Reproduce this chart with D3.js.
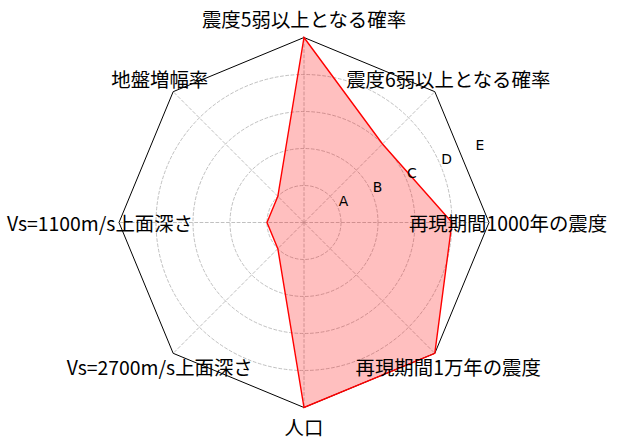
<!DOCTYPE html>
<html>
<head>
<meta charset="utf-8">
<script src="https://cdn.jsdelivr.net/npm/d3@7"></script>
<style>
  body { margin: 0; background: #fff; }
</style>
</head>
<body>
<div id="radar"></div>
<script>
// axes, clockwise from the top
var categories = ["震度5弱以上となる確率", "震度6弱以上となる確率", "再現期間1000年の震度",
    "再現期間1万年の震度", "人口", "Vs=2700m/s上面深さ", "Vs=1100m/s上面深さ", "地盤増幅率"];
var values = [5, 3, 4, 5, 5, 1, 1, 1];
var levels = [1, 2, 3, 4, 5];
var levelLabels = ["A", "B", "C", "D", "E"];

var width = 618, height = 446,
    cx = 304, cy = 222.5, radius = 185;

var svg = d3.select("#radar")
    .append("svg")
    .attr("width", width)
    .attr("height", height)
    .append("g")
    .attr("transform", "translate(" + cx + "," + cy + ")");

var r = d3.scaleLinear().domain([0, 5]).range([0, radius]);
var angle = d3.scaleLinear().domain([0, categories.length]).range([0, 2 * Math.PI]);

// point on the chart for angle a (clockwise from top) and radius d
function px(a, d) { return d * Math.sin(a); }
function py(a, d) { return -d * Math.cos(a); }

// dashed circle grid
svg.append("g")
    .selectAll("circle")
    .data(levels.slice(0, 4))
    .enter()
    .append("circle")
    .attr("r", function (d) { return r(d); })
    .attr("fill", "none")
    .attr("stroke", "#b0b0b0")
    .attr("stroke-width", 0.8)
    .attr("stroke-dasharray", "3.7,1.6");

// spokes
svg.append("g")
    .selectAll("line")
    .data(categories)
    .enter()
    .append("line")
    .attr("x1", 0)
    .attr("y1", 0)
    .attr("x2", function (d, i) { return px(angle(i), r(5)); })
    .attr("y2", function (d, i) { return py(angle(i), r(5)); })
    .attr("stroke", "#b0b0b0")
    .attr("stroke-width", 0.8)
    .attr("stroke-dasharray", "3.7,1.6");

// octagon frame
var frame = d3.lineRadial()
    .angle(function (d, i) { return angle(i); })
    .radius(function (d) { return r(d); })
    .curve(d3.curveLinearClosed);

svg.append("path")
    .datum(categories.map(function () { return 5; }))
    .attr("fill", "none")
    .attr("stroke", "black")
    .attr("stroke-width", 1)
    .attr("d", frame);

// data polygon
svg.append("path")
    .datum(values)
    .attr("fill", "red")
    .attr("fill-opacity", 0.25)
    .attr("stroke", "none")
    .attr("d", frame);

svg.append("path")
    .datum(values)
    .attr("fill", "none")
    .attr("stroke", "red")
    .attr("stroke-width", 1.4)
    .attr("stroke-linejoin", "miter")
    .attr("d", frame);

// level labels A-E
var labelAngle = Math.PI / 2 - Math.PI / 8;
svg.append("g")
    .selectAll("text")
    .data(levels)
    .enter()
    .append("text")
    .attr("x", function (d) { return px(labelAngle, r(d)) + 0.5; })
    .attr("y", function (d) { return py(labelAngle, r(d)) - 2; })
    .attr("text-anchor", "start")
    .style("font-family", "DejaVu Sans")
    .style("font-size", "13.9px")
    .text(function (d, i) { return levelLabels[i]; });

// category labels
svg.append("g")
    .selectAll("text")
    .data(categories)
    .enter()
    .append("text")
    .attr("x", function (d, i) { return px(angle(i), 204); })
    .attr("y", function (d, i) { return py(angle(i), 204); })
    .attr("text-anchor", "middle")
    .attr("dominant-baseline", "central")
    .style("font-family", "'Noto Sans CJK JP'")
    .style("font-size", "19.4px")
    .text(function (d) { return d; });
</script>
</body>
</html>
